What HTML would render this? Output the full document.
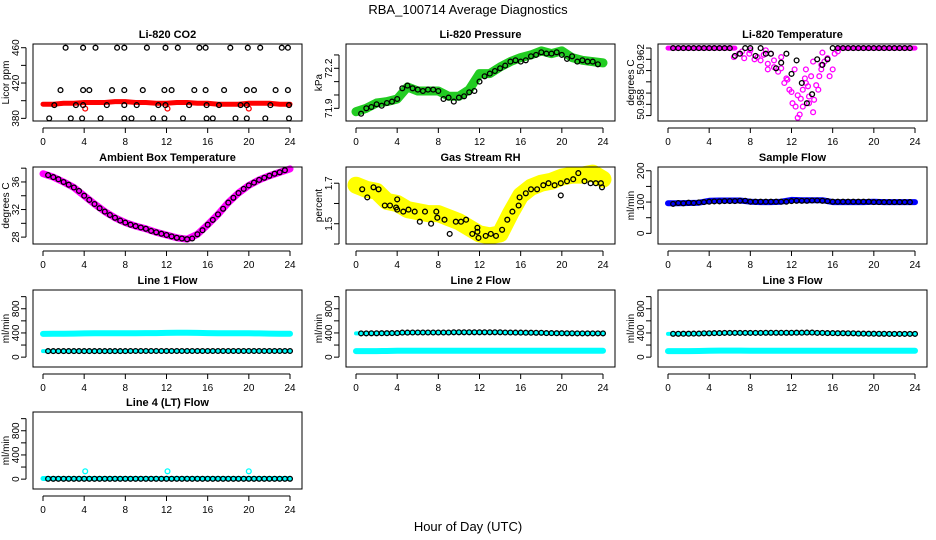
<!DOCTYPE html>
<html><head><meta charset="utf-8">
<style>
html,body{margin:0;padding:0;background:#fff;}
svg{display:block;font-family:"Liberation Sans",Arial,sans-serif;}
</style></head>
<body>
<svg id="chart" width="936" height="540" viewBox="0 0 936 540" xmlns="http://www.w3.org/2000/svg">
<rect width="936" height="540" fill="#fff"/>
<text x="468" y="14" font-size="13" text-anchor="middle">RBA_100714  Average Diagnostics</text>
<text x="468" y="531" font-size="13" text-anchor="middle">Hour of Day (UTC)</text>
</svg>
<script>
// ---------- data ----------
const xTicks = [0,4,8,12,16,20,24];
const hours = [0,1,2,3,4,5,6,7,8,9,10,11,12,13,14,15,16,17,18,19,20,21,22,23,24];

// CO2
const co2Red = [396,396,397,397,398,398,398,399,399,398,398,397,397,398,398,397,397,396,396,396,397,397,397,396,396];
const co2BlackX = [2.2,3.9,5.1,7.2,7.9,10.1,11.9,13.1,15.2,15.8,18.2,19.9,21.1,23.2,23.8,
  1.7,3.9,4.5,6.7,7.9,9.7,11.8,12.5,14.7,15.8,17.6,19.8,20.5,22.6,23.8,
  1.1,3.2,3.9,6.2,7.9,9.1,11.2,11.9,14.2,15.9,17.1,19.2,19.8,22.1,23.9,
  0.6,2.7,3.8,5.6,7.9,8.6,10.7,11.8,13.6,15.9,16.5,18.7,19.8,21.6,23.9];
const co2BlackY = [460,460,460,460,460,460,460,460,460,460,460,460,460,460,460,
  412,412,412,412,412,412,412,412,412,412,412,412,412,412,412,
  395,395,395,395,395,395,395,395,395,395,395,395,395,395,395,
  380,380,380,380,380,380,380,380,380,380,380,380,380,380,380];
const co2OutX = [4.1,12.1,20.0];
const co2OutY = [391,391,391];

// Pressure
const presGreen = [71.875,71.9,71.94,71.95,71.97,72.06,72.03,72.03,72.03,71.99,71.99,72.04,72.16,72.16,72.21,72.25,72.28,72.3,72.33,72.31,72.33,72.28,72.26,72.25,72.24];
const presBlack = [71.86,71.9,71.91,71.93,71.92,71.94,71.95,71.97,72.05,72.07,72.05,72.04,72.03,72.04,72.04,72.03,71.97,71.98,71.95,71.98,71.99,72.02,72.03,72.1,72.14,72.16,72.18,72.2,72.22,72.25,72.26,72.25,72.26,72.29,72.3,72.32,72.31,72.31,72.32,72.3,72.27,72.29,72.25,72.26,72.25,72.25,72.23];

// Li-820 Temperature
const tempBandA = [[0,50.963],[6.5,50.963]];
const tempMagX = [6.4,6.9,7.4,7.9,8.4,8.7,9.0,9.3,9.7,10.0,10.3,10.7,11.0,11.3,11.6,11.8,12.1,12.4,12.6,12.8,12.9,13.1,13.3,13.4,13.6,13.7,13.9,14.1,14.2,14.4,14.6,14.7,14.9,15.2,15.5,15.7,16.0,16.2,16.5,9.7,10.3,12.3,12.6,13.1,13.4,13.7,11.0,11.5,12.0,14.1,14.9,7.2,8.0,9.5,15.0];
const tempMagY = [50.9622,50.9625,50.9621,50.9625,50.9620,50.9622,50.9619,50.9624,50.9616,50.9625,50.9619,50.9609,50.9612,50.9599,50.9602,50.9593,50.9581,50.9578,50.9568,50.9571,50.9585,50.9593,50.9603,50.9611,50.9596,50.9587,50.9605,50.9573,50.9584,50.9597,50.9593,50.9605,50.9611,50.9618,50.9621,50.9605,50.9611,50.9625,50.9627,50.9611,50.9613,50.9611,50.9588,50.9578,50.9599,50.9581,50.9622,50.9603,50.9591,50.9618,50.9615,50.9627,50.9628,50.9628,50.9626];
const tempBlack = [50.963,50.963,50.963,50.963,50.963,50.963,50.963,50.963,50.963,50.963,50.963,50.963,50.9623,50.9625,50.963,50.963,50.9623,50.963,50.9625,50.9625,50.9612,50.9617,50.9625,50.9607,50.9619,50.9599,50.9581,50.9589,50.9620,50.9615,50.9620,50.963,50.963,50.963,50.963,50.963,50.963,50.963,50.963,50.963,50.963,50.963,50.963,50.963,50.963,50.963,50.963];

// Ambient
const ambMag = [37.2,36.7,36.0,35.2,34.0,32.8,31.7,30.8,30.1,29.6,29.2,28.7,28.3,27.9,27.7,28.4,29.8,31.3,33.0,34.4,35.5,36.3,36.9,37.4,37.9];
const ambBlack = [37.0,36.7,36.4,36.0,35.6,35.2,34.7,34.0,33.4,32.8,32.2,31.7,31.2,30.8,30.4,30.1,29.8,29.6,29.4,29.2,28.9,28.7,28.5,28.3,28.1,27.9,27.8,27.7,27.8,28.4,29.0,29.8,30.5,31.3,32.1,33.0,33.7,34.4,35.0,35.5,35.9,36.3,36.6,36.9,37.2,37.4,37.7];

// Gas Stream RH
const rhYellow = [1.69,1.67,1.66,1.61,1.6,1.57,1.56,1.55,1.55,1.53,1.51,1.48,1.45,1.44,1.45,1.55,1.64,1.68,1.7,1.71,1.73,1.74,1.74,1.75,1.72];
const rhBlackX = [0.6,1.1,1.7,2.2,2.8,3.3,3.9,4,4,4.6,5.1,5.7,6.2,6.7,7.3,7.8,7.9,8.6,9.1,9.7,10.2,10.7,11.3,11.8,11.8,11.9,12.6,13.1,13.6,14.2,14.7,15.2,15.8,15.9,16.5,17,17.6,18.2,18.7,19.3,19.9,19.9,20.5,21.1,21.6,22.2,22.8,23.3,23.8,23.9];
const rhBlackY = [1.67,1.63,1.68,1.67,1.59,1.59,1.58,1.62,1.57,1.56,1.57,1.56,1.51,1.56,1.5,1.56,1.53,1.52,1.45,1.51,1.51,1.52,1.45,1.48,1.46,1.43,1.44,1.45,1.44,1.47,1.52,1.56,1.59,1.63,1.65,1.67,1.67,1.69,1.7,1.69,1.7,1.64,1.71,1.72,1.75,1.71,1.7,1.7,1.7,1.68];

// Sample flow
const sampBlue = [96,96,97,98,104,105,105,105,101,100,100,101,107,106,106,106,100,100,100,100,101,100,100,100,100];
const sampBlack = [94,97,96,98,97,99,100,101,102,102,103,103,103,104,104,101,101,101,101,101,101,101,101,103,104,104,104,105,105,104,103,101,101,101,101,101,101,101,101,100,100,100,100,100,100,100,100];

// Line flows
const l1Cyan = [385,386,388,390,392,395,396,396,396,396,398,398,400,402,402,400,398,396,396,395,394,392,390,388,388];
const l1Black = [100,100,100,100,100,100,100,100,100,102,102,102,102,102,102,102,102,102,102,102,102,102,102,102,102];
const l2Cyan = [100,100,100,102,104,106,106,106,104,104,104,104,104,104,104,104,104,104,104,104,104,104,104,104,104];
const l2Black = [392,392,394,396,398,406,408,408,408,408,410,410,410,410,410,408,406,404,402,398,396,394,392,392,392];
const l3Cyan = [100,100,100,102,104,108,108,108,106,106,106,106,106,106,106,106,106,106,106,106,106,106,106,106,106];
const l3Black = [385,386,388,390,394,398,400,400,400,400,402,402,402,404,406,400,398,396,394,390,388,386,385,385,385];
const l4Cyan = [10,10,10,10,10,10,10,10,10,10,10,10,10,10,10,10,10,10,10,10,10,10,10,10,10];
const l4Black = [5,5,5,5,5,5,5,5,5,5,5,5,5,5,5,5,5,5,5,5,5,5,5,5,5];
const l4OutX = [4.1,12.1,20.0];
const l4OutY = [130,130,130];

// ---------- drawing ----------
const svg = document.getElementById('chart');
const NS = 'http://www.w3.org/2000/svg';
const colLeft = [33,346,658];
const rowTop = [44,167,290,412];
const W = 269, H = 77;

function mk(tag, attrs, parent){
  const e = document.createElementNS(NS, tag);
  for (const k in attrs) e.setAttribute(k, attrs[k]);
  (parent||svg).appendChild(e);
  return e;
}

function panel(name, col, row, title, ylab, ylim, yticks, ylabels){
  const L = colLeft[col], T = rowTop[row];
  const g = mk('g', {});
  
  
  const xs = v => L + 10 + v * (W - 22) / 24;
  const ys = v => T + H - (v - ylim[0]) / (ylim[1] - ylim[0]) * H;
  const t = mk('text', {x: L + W/2, y: T - 6, 'font-size': 11, 'font-weight': 'bold', 'text-anchor': 'middle'}, g);
  t.textContent = title;
  
  
  const yl = mk('text', {x: 0, y: 0, 'font-size': 10, 'text-anchor': 'middle', transform: `translate(${L-24},${T+H/2}) rotate(-90)`}, g);
  yl.textContent = ylab;
  
  
  const plot = mk('g', {}, g);
  
  
  const frame = mk('rect', {x: L, y: T, width: W, height: H, fill: 'none', stroke: '#000', 'stroke-width': 1}, g);
  
  
  const xa = mk('g', {}, g);
  
  
  mk('line', {x1: xs(0), x2: xs(24), y1: T+H+7, y2: T+H+7, stroke: '#000'}, xa);
  xTicks.forEach(v => {
    mk('line', {x1: xs(v), x2: xs(v), y1: T+H+7, y2: T+H+12, stroke: '#000'}, xa);
    const tx = mk('text', {x: xs(v), y: T+H+24, 'font-size': 10, 'text-anchor': 'middle'}, xa);
    tx.textContent = v;
  });
  const ya = mk('g', {}, g);
  
  
  mk('line', {x1: L-7, x2: L-7, y1: ys(yticks[0]), y2: ys(yticks[yticks.length-1]), stroke: '#000'}, ya);
  yticks.forEach(v => mk('line', {x1: L-12, x2: L-7, y1: ys(v), y2: ys(v), stroke: '#000'}, ya));
  ylabels.forEach(v => {
    const tx = mk('text', {x: 0, y: 0, 'font-size': 10, 'text-anchor': 'middle', transform: `translate(${L-14},${ys(v)}) rotate(-90)`}, ya);
    tx.textContent = v;
  });
  return {plot, xs, ys};
}

function band(p, xArr, yArr, color, w, name){
  const d = xArr.map((x,i) => (i?'L':'M') + p.xs(x).toFixed(1) + ' ' + p.ys(yArr[i]).toFixed(1)).join(' ');
  const e = mk('path', {d, fill: 'none', stroke: color, 'stroke-width': w, 'stroke-linejoin': 'round', 'stroke-linecap': 'round'}, p.plot);
  
  
}
function pts(p, xArr, yArr, color, name, r){
  const g = mk('g', {}, p.plot);
  
  
  xArr.forEach((x,i) => {
    const c = mk('circle', {cx: p.xs(x).toFixed(1), cy: p.ys(yArr[i]).toFixed(1), r: r||2.4, fill: 'none', stroke: color, 'stroke-width': 1.3}, g);
    
    
  });
}
const halfX = presBlack.map((_,i) => 0.5 + i*0.5);

// CO2
let p = panel('co2', 0, 0, 'Li-820 CO2', 'Licor ppm', [377,464.2], [380,400,420,440,460], [380,420,460]);
band(p, hours, co2Red, '#ff0000', 5, 'co2-red-series');
pts(p, co2OutX, co2OutY, '#ff0000', 'co2-red-outliers');
pts(p, co2BlackX, co2BlackY, '#000', 'co2-black-series');

// Pressure
p = panel('pressure', 1, 0, 'Li-820 Pressure', 'kPa', [71.805,72.382], [71.9,72.0,72.1,72.2,72.3], [71.9,72.2]);
band(p, hours, presGreen, '#22cc22', 9, 'pressure-green-series');
pts(p, halfX, presBlack, '#000', 'pressure-black-series');

// Temperature
p = panel('temperature', 2, 0, 'Li-820 Temperature', 'degrees C', [50.95652,50.96336], [50.957,50.958,50.959,50.96,50.961,50.962,50.963], [50.958,50.962]);
band(p, [0,6.5], [50.963,50.963], '#ff00ff', 5, 'temperature-magenta-band-early');
band(p, [16.5,24], [50.963,50.963], '#ff00ff', 5, 'temperature-magenta-band-late');
pts(p, tempMagX, tempMagY, '#ff00ff', 'temperature-magenta-series');
pts(p, halfX, tempBlack, '#000', 'temperature-black-series');

// Ambient
p = panel('ambient', 0, 1, 'Ambient Box Temperature', 'degrees C', [27.0,38.17], [28,30,32,34,36,38], [28,32,36]);
band(p, hours, ambMag, '#ff00ff', 7, 'ambient-magenta-series');
pts(p, halfX, ambBlack, '#000', 'ambient-black-series');

// RH
p = panel('rh', 1, 1, 'Gas Stream RH', 'percent', [1.40,1.78], [1.4,1.5,1.6,1.7], [1.5,1.7]);
band(p, hours, rhYellow, '#ffff00', 17, 'rh-yellow-series');
pts(p, rhBlackX, rhBlackY, '#000', 'rh-black-series');

// Sample flow
p = panel('sample-flow', 2, 1, 'Sample Flow', 'ml/min', [-34,212], [0,50,100,150,200], [0,100,200]);
band(p, hours, sampBlue, '#0000ff', 6, 'sample-flow-blue-series');
pts(p, halfX, sampBlack, '#000', 'sample-flow-black-series');

const flowTicks = [0,200,400,600,800,1000];
const flowLabels = [0,400,800];
const flowLim = [-163,1110];
const hourBlackX = hours.slice(1).map(h => h - 0.5);

p = panel('line1-flow', 0, 2, 'Line 1 Flow', 'ml/min', flowLim, flowTicks, flowLabels);
band(p, hours, l1Cyan, '#00ffff', 6, 'line1-cyan-series');
band(p, hours, l1Black, '#00ffff', 4, 'line1-cyan-low-series');
pts(p, hourBlackX.concat(hourBlackX.map(h=>h+0.5)), l1Black.slice(1).concat(l1Black.slice(1)), '#000', 'line1-black-series');

p = panel('line2-flow', 1, 2, 'Line 2 Flow', 'ml/min', flowLim, flowTicks, flowLabels);
band(p, hours, l2Cyan, '#00ffff', 6, 'line2-cyan-series');
band(p, hours, l2Black, '#00ffff', 4, 'line2-cyan-high-series');
pts(p, hourBlackX.concat(hourBlackX.map(h=>h+0.5)), l2Black.slice(1).concat(l2Black.slice(1)), '#000', 'line2-black-series');

p = panel('line3-flow', 2, 2, 'Line 3 Flow', 'ml/min', flowLim, flowTicks, flowLabels);
band(p, hours, l3Cyan, '#00ffff', 6, 'line3-cyan-series');
band(p, hours, l3Black, '#00ffff', 4, 'line3-cyan-high-series');
pts(p, hourBlackX.concat(hourBlackX.map(h=>h+0.5)), l3Black.slice(1).concat(l3Black.slice(1)), '#000', 'line3-black-series');

p = panel('line4-flow', 0, 3, 'Line 4 (LT) Flow', 'ml/min', flowLim, flowTicks, flowLabels);
band(p, hours, l4Cyan, '#00ffff', 5, 'line4-cyan-series');
pts(p, l4OutX, l4OutY, '#00ffff', 'line4-cyan-outliers');
pts(p, hourBlackX.concat(hourBlackX.map(h=>h+0.5)), l4Black.slice(1).concat(l4Black.slice(1)), '#000', 'line4-black-series');
</script>
</body></html>
